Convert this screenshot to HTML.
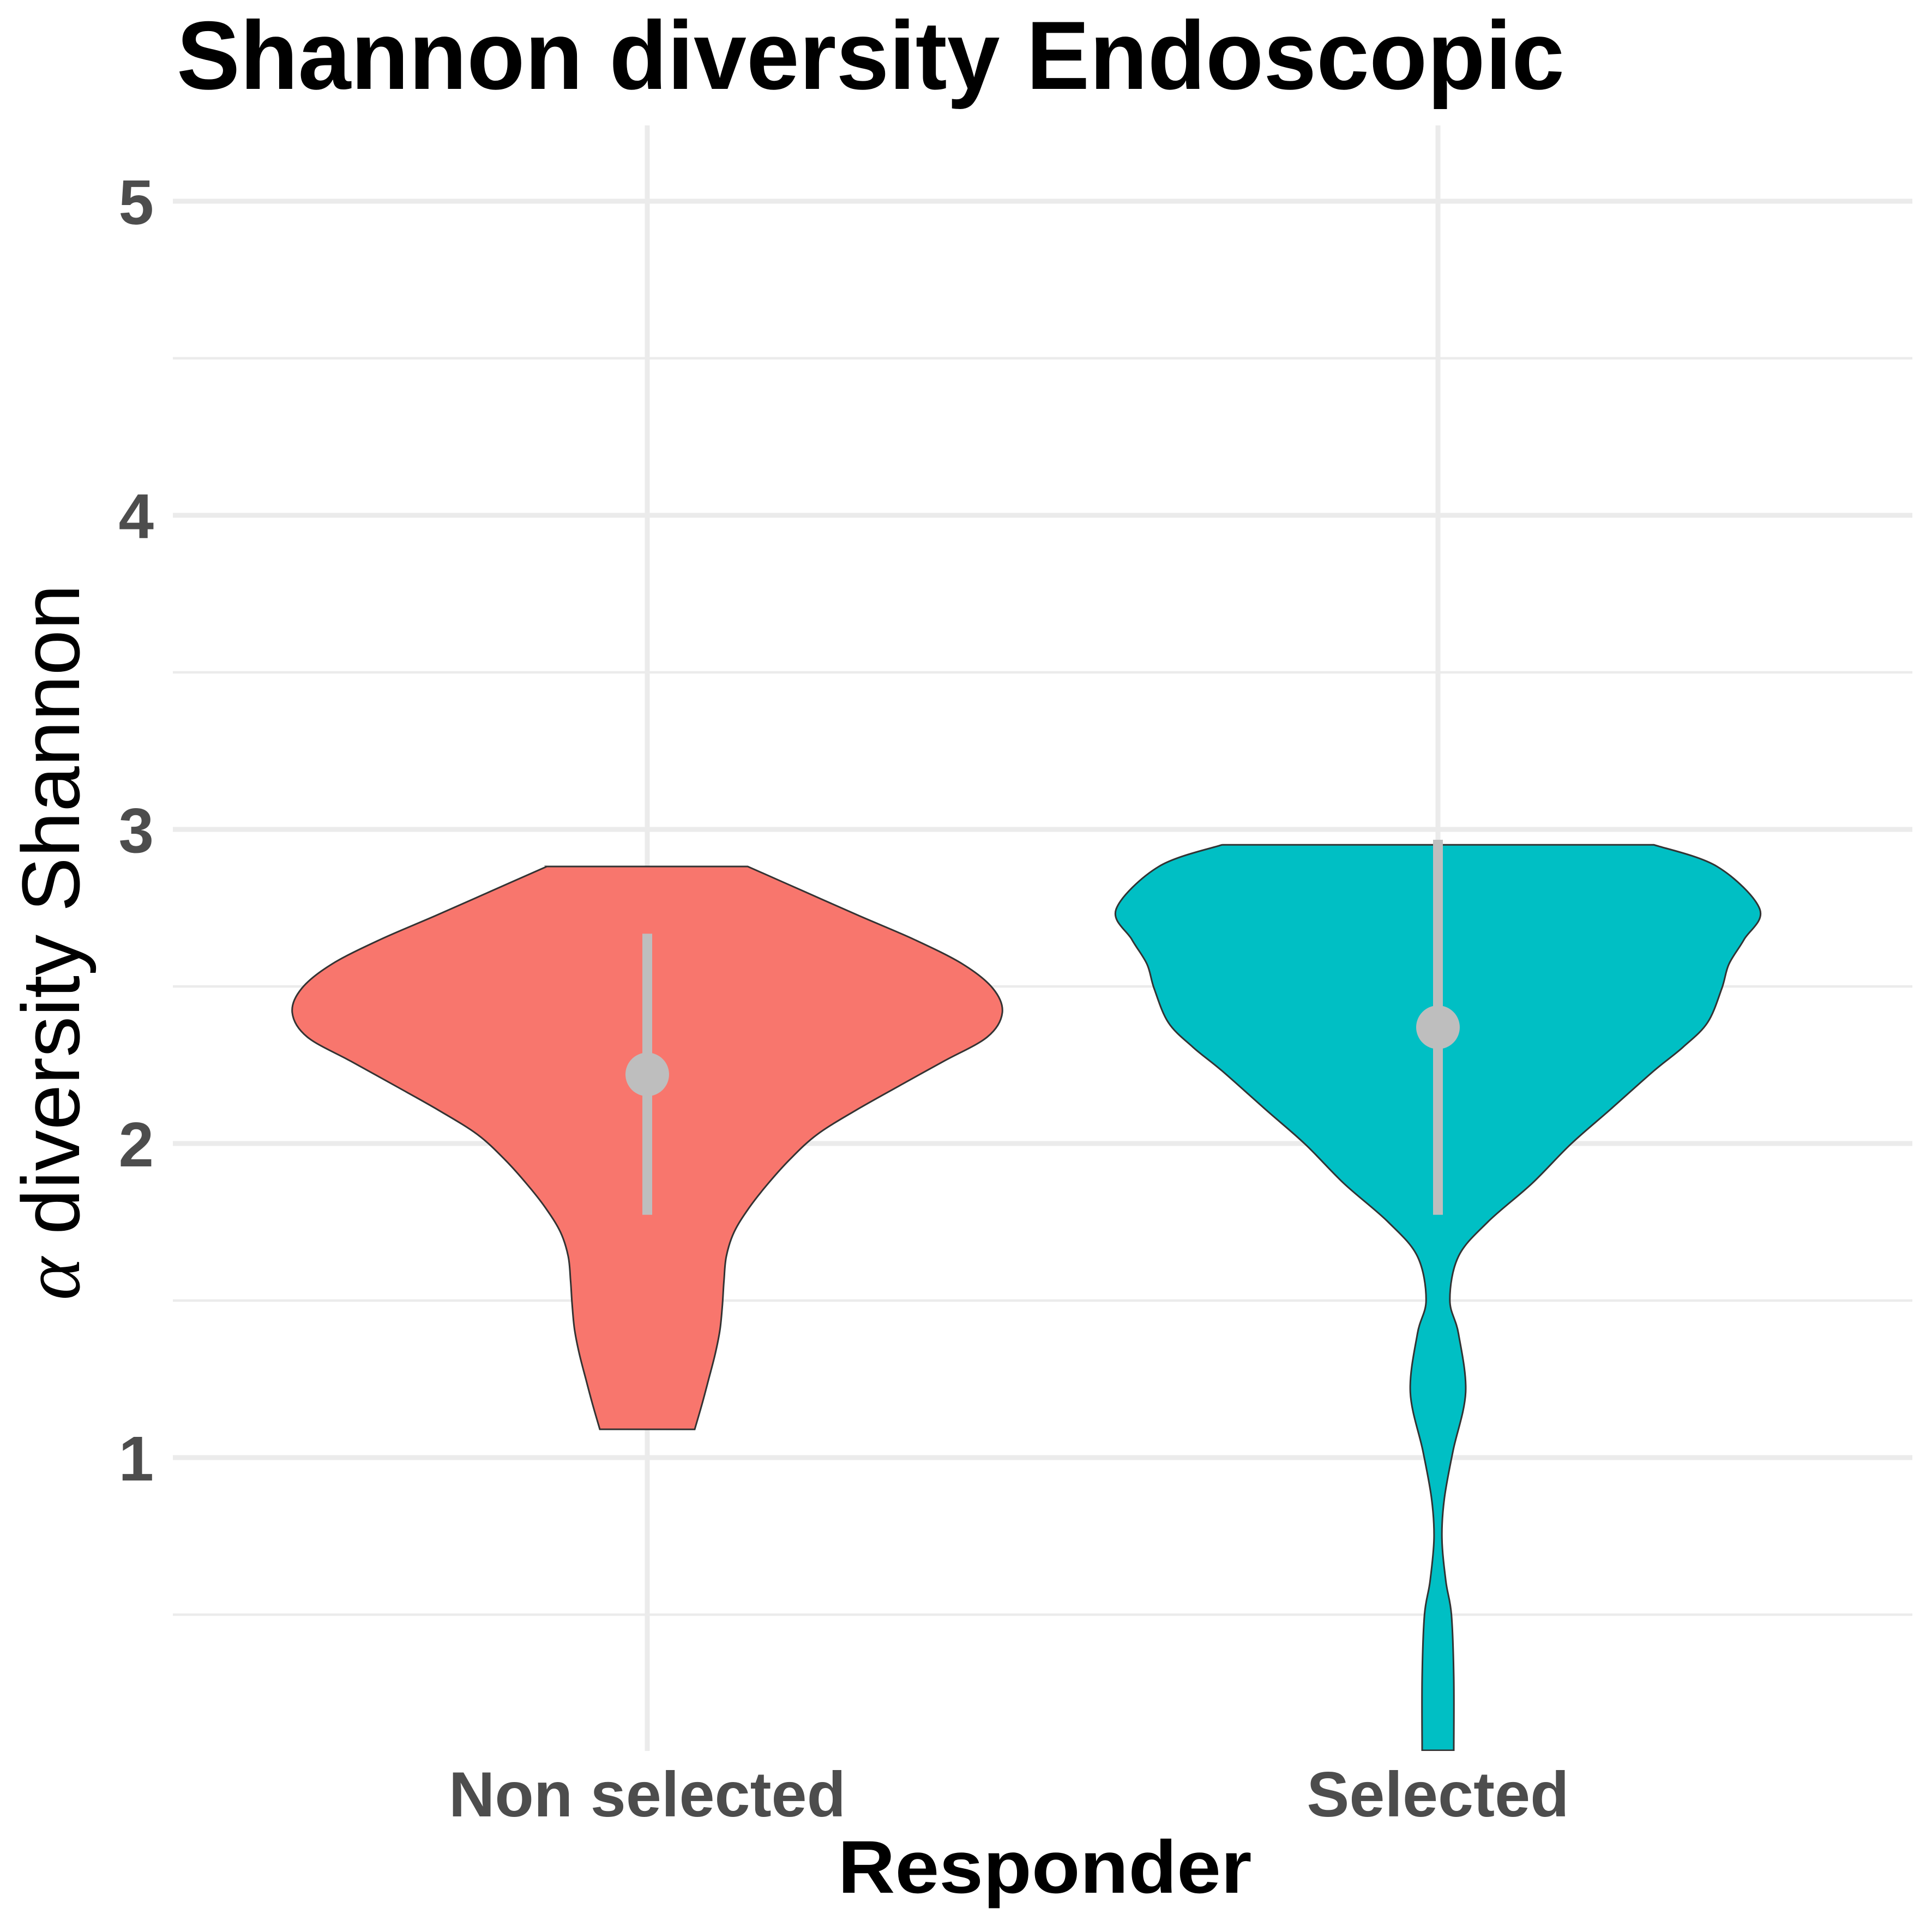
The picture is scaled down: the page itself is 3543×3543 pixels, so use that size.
<!DOCTYPE html>
<html><head><meta charset="utf-8"><style>
html,body{margin:0;padding:0;background:#fff}
svg{display:block}
text{font-family:"Liberation Sans",Arial,sans-serif}
</style></head><body>
<svg id="chart" xmlns="http://www.w3.org/2000/svg" width="3543" height="3543" viewBox="0 0 3543 3543">
<rect width="3543" height="3543" fill="#fff"/>
<g id="grid"></g>
<g id="marks"></g>
<g id="axes"></g>
<text x="324" y="163" font-size="178" font-weight="bold" fill="#000" textLength="2545" lengthAdjust="spacingAndGlyphs">Shannon diversity Endoscopic</text>
<text x="1916" y="3471" font-size="137" font-weight="bold" fill="#000" text-anchor="middle" textLength="759" lengthAdjust="spacingAndGlyphs">Responder</text>
<text transform="translate(145,1728) rotate(-90)" font-size="150" fill="#000" text-anchor="middle"><tspan font-family="Liberation Serif, serif" font-style="italic">α</tspan> diversity Shannon</text>
</svg>
<script>
const categories = ["Non selected", "Selected"];
const fills = ["#F8766D", "#00BFC4"];
const yTicks = [1, 2, 3, 4, 5];
const yMinor = [0.5, 1.5, 2.5, 3.5, 4.5];
const nonSelValues = [2.882,2.804,2.726,2.649,2.571,2.494,2.417,2.339,2.262,2.184,2.106,2.029,1.951,1.873,1.796,1.719,1.641,1.564,1.486,1.408,1.331,1.253,1.177,1.090];
const nonSelWidths = [0.127,0.197,0.267,0.338,0.399,0.437,0.449,0.430,0.375,0.319,0.264,0.215,0.181,0.153,0.129,0.110,0.100,0.097,0.095,0.092,0.086,0.078,0.070,0.060];
const selValues = [2.951,2.882,2.746,2.649,2.571,2.494,2.385,2.307,2.231,2.106,1.998,1.873,1.750,1.641,1.502,1.394,1.208,1.021,0.868,0.743,0.606,0.5,0.3,0.068];
const selWidths = [0.273,0.353,0.407,0.387,0.368,0.359,0.341,0.310,0.273,0.217,0.168,0.119,0.063,0.026,0.015,0.026,0.035,0.019,0.008,0.005,0.010,0.017,0.020,0.020];
const means = [2.22, 2.37];
const lows = [1.773, 1.773];
const highs = [2.668, 2.967];

const NS = "http://www.w3.org/2000/svg";
const PL = 317, PR = 3507, PT = 230, PB = 3211;
function xScale(i) { return 1187 + i * 1450; }
function wScale(w) { return w * 1450; }
function yScale(v) { return 1521 - (v - 3) * 576; }
function mk(tag, attrs, parent) {
  const e = document.createElementNS(NS, tag);
  for (const k in attrs) e.setAttribute(k, attrs[k]);
  parent.appendChild(e);
  return e;
}
const grid = document.getElementById('grid');
const marks = document.getElementById('marks');
const axes = document.getElementById('axes');

yMinor.forEach(v => {
  const l = mk('line', {x1: PL, x2: PR, y1: yScale(v), y2: yScale(v), stroke: '#ebebeb', 'stroke-width': 4.5}, grid);
  
  
});
yTicks.forEach(v => {
  const l = mk('line', {x1: PL, x2: PR, y1: yScale(v), y2: yScale(v), stroke: '#ebebeb', 'stroke-width': 9}, grid);
  
  
  const t = mk('text', {x: 282, y: yScale(v) + 42, 'font-size': 116, 'font-weight': 'bold', fill: '#4d4d4d', 'text-anchor': 'end'}, axes);
  t.textContent = v;
  
  
});
categories.forEach((c, i) => {
  const l = mk('line', {x1: xScale(i), x2: xScale(i), y1: PT, y2: PB, stroke: '#ebebeb', 'stroke-width': 9}, grid);
  
  
  const t = mk('text', {x: xScale(i), y: 3331, 'font-size': 117, 'font-weight': 'bold', fill: '#4d4d4d', 'text-anchor': 'middle'}, axes);
  t.textContent = c;
  
  
});

function smooth(pts) {
  let d = '';
  for (let i = 0; i < pts.length - 1; i++) {
    const p0 = pts[Math.max(i - 1, 0)], p1 = pts[i], p2 = pts[i + 1], p3 = pts[Math.min(i + 2, pts.length - 1)];
    const c1 = [p1[0] + (p2[0] - p0[0]) / 6, p1[1] + (p2[1] - p0[1]) / 6];
    const c2 = [p2[0] - (p3[0] - p1[0]) / 6, p2[1] - (p3[1] - p1[1]) / 6];
    d += ` C${c1[0].toFixed(1)},${c1[1].toFixed(1)} ${c2[0].toFixed(1)},${c2[1].toFixed(1)} ${p2[0].toFixed(1)},${p2[1].toFixed(1)}`;
  }
  return d;
}
function violinPath(i, vals, widths) {
  const cx = xScale(i);
  const right = vals.map((v, k) => [cx + wScale(widths[k]), yScale(v)]);
  const left = vals.map((v, k) => [cx - wScale(widths[k]), yScale(v)]).reverse();
  let d = `M${left[left.length - 1][0]},${left[left.length - 1][1]} L${right[0][0]},${right[0][1]}`;
  d += smooth(right);
  d += ` L${left[0][0]},${left[0][1]}`;
  d += smooth(left);
  return d + ' Z';
}
mk('clipPath', {id: 'panelClip'}, document.getElementById('chart'));
mk('rect', {x: PL, y: PT, width: PR - PL, height: PB - PT}, document.getElementById('panelClip'));
const seriesVals = [nonSelValues, selValues];
const seriesWidths = [nonSelWidths, selWidths];
categories.forEach((c, i) => {
  const p = mk('path', {d: violinPath(i, seriesVals[i], seriesWidths[i]), fill: fills[i], stroke: '#333333', 'stroke-width': 3, 'clip-path': 'url(#panelClip)'}, marks);
  
  
});
categories.forEach((c, i) => {
  const l = mk('line', {x1: xScale(i), x2: xScale(i), y1: yScale(highs[i]), y2: yScale(lows[i]), stroke: '#bebebe', 'stroke-width': 18}, marks);
  
  
  const pt = mk('circle', {cx: xScale(i), cy: yScale(means[i]), r: 40, fill: '#bebebe'}, marks);
  
  
});
</script>
</body></html>
